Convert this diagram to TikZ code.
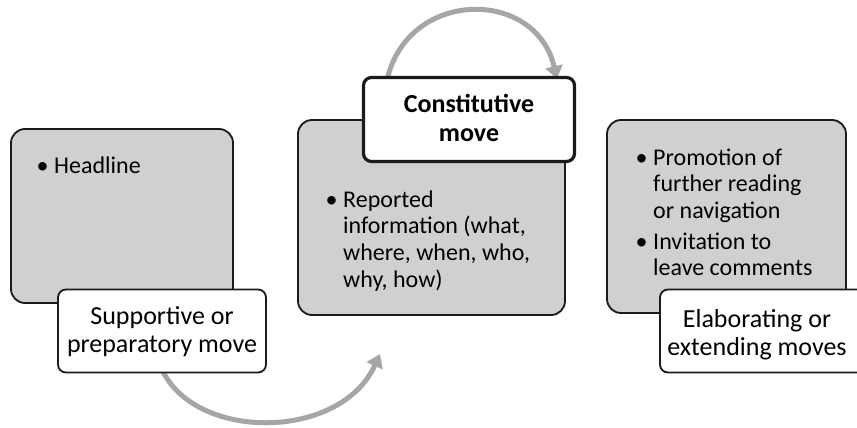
\documentclass[tikz,border=0pt]{standalone}
\usepackage{fontspec}
\setmainfont{Carlito}
\usetikzlibrary{arrows.meta}
\definecolor{boxgray}{HTML}{D0D0D0}
\definecolor{arrowgray}{HTML}{A6A6A6}
\definecolor{edge}{HTML}{1A1A1A}
\tikzset{
  graybox/.style={draw=edge, line width=1.8pt, fill=boxgray, rounded corners=14pt},
  labelbox/.style={draw=edge, line width=1.8pt, fill=white, rounded corners=8pt},
  flow/.style={draw=arrowgray, line width=5pt, -{Triangle[length=13pt,width=17pt]}},
  bullettext/.style={anchor=base west, inner sep=0pt, font=\fontsize{24}{26.7}\selectfont},
  labeltext/.style={anchor=base, inner sep=0pt, font=\fontsize{26}{28.5}\selectfont}
}
\newcommand{\bul}{\makebox[16pt][l]{\hspace{-1.5pt}\textbullet}}
\begin{document}
\begin{tikzpicture}[x=1pt,y=-1pt]
\useasboundingbox (0,0) rectangle (857,428);
% arrows (behind)
\coordinate (t1) at (387,80);
\coordinate (t2) at (557,79);
\coordinate (b1) at (160,365);
\coordinate (b2) at (380,354);
\draw[flow] (t1) .. controls (408,-12) and (536,-12) .. (t2);
\draw[flow] (b1) .. controls (190,442) and (340,442) .. (b2);
% left
\path[graybox] (11,129) rectangle (233,303);
\node[bullettext] (Lt) at (38,173) {\bul Headline};
\node[labelbox, minimum width=208pt, minimum height=83pt] (Lb) at (162,331) {};
\node[labeltext] (Ll) at (162,324) {\begin{tabular}[t]{@{}c@{}}Supportive or\\preparatory move\end{tabular}};
% middle
\path[graybox] (298,120) rectangle (565,315);
\node[bullettext] (Mt) at (327,207) {\begin{tabular}[t]{@{}l@{}}\bul Reported\\\hspace{16pt}information (what,\\\hspace{16pt}where, when, who,\\\hspace{16pt}why, how)\end{tabular}};
\node[labelbox, line width=3.2pt, minimum width=211pt, minimum height=84pt] (Mb) at (469,119.5) {};
\node[labeltext, font=\fontsize{26}{28.5}\selectfont\bfseries] (Ml) at (469,113) {\begin{tabular}[t]{@{}c@{}}Constitutive\\move\end{tabular}};
% right
\path[graybox] (607,120) rectangle (846,313);
\node[bullettext] (Rt) at (637,165) {\begin{tabular}[t]{@{}l@{}}\bul Promotion of\\\hspace{16pt}further reading\\\hspace{16pt}or navigation\\[4pt]\bul Invitation to\\\hspace{16pt}leave comments\end{tabular}};
\node[labelbox, minimum width=208pt, minimum height=83pt] (Rb) at (764,331) {};
\node[labeltext] (Rl) at (757,327) {\begin{tabular}[t]{@{}c@{}}Elaborating or\\extending moves\end{tabular}};
\end{tikzpicture}
\end{document}
